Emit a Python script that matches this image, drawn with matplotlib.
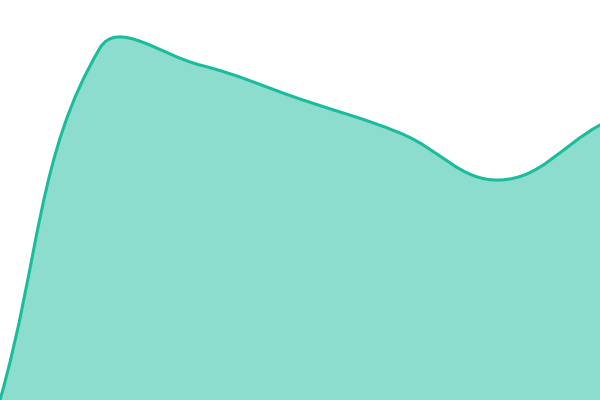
import numpy as np
import matplotlib
matplotlib.use("Agg")
import matplotlib.pyplot as plt
from matplotlib.path import Path
from matplotlib.patches import PathPatch

labels = ["A", "B", "C", "D", "E", "F", "G"]
values = [0, 352, 335, 301, 267, 220, 275]

line_color = "#1abc9c"
tension = 0.4

fig = plt.figure(figsize=(6, 4), dpi=100)
ax = fig.add_axes([0, 0, 1, 1])
n = len(values)
ax.set_xlim(0, n - 1)
ax.set_ylim(0, 400)
ax.axis("off")

# compute Chart.js-like spline in pixel space
W, H = 600.0, 400.0
xs = np.arange(n) * W / (n - 1)
ys = np.array(values, dtype=float)  # units equal pixels (ylim 0..400)
pts = np.column_stack([xs, ys])

cps = []
for i in range(n):
    prev = pts[max(i - 1, 0)]
    cur = pts[i]
    nxt = pts[min(i + 1, n - 1)]
    d01 = np.hypot(*(cur - prev))
    d12 = np.hypot(*(nxt - cur))
    tot = d01 + d12
    s01 = d01 / tot if tot else 0
    s12 = d12 / tot if tot else 0
    fa = tension * s01
    fb = tension * s12
    c1 = cur - fa * (nxt - prev)
    c2 = cur + fb * (nxt - prev)
    c1[1] = np.clip(c1[1], 0, H); c2[1] = np.clip(c2[1], 0, H)
    c1[0] = np.clip(c1[0], 0, W); c2[0] = np.clip(c2[0], 0, W)
    cps.append((c1, c2))

def to_data(p):
    return (p[0] * (n - 1) / W, p[1])

verts = [to_data(pts[0])]
codes = [Path.MOVETO]
for i in range(1, n):
    verts += [to_data(cps[i - 1][1]), to_data(cps[i][0]), to_data(pts[i])]
    codes += [Path.CURVE4] * 3

fill_verts = verts + [(n - 1, 0), (0, 0), verts[0]]
fill_codes = codes + [Path.LINETO, Path.LINETO, Path.CLOSEPOLY]
ax.add_patch(PathPatch(Path(fill_verts, fill_codes), facecolor=line_color,
                       alpha=0.5, edgecolor="none"))
ax.add_patch(PathPatch(Path(verts, codes), facecolor="none",
                       edgecolor=line_color, linewidth=2.2, capstyle="round"))

fig.savefig("out.png", dpi=100)
